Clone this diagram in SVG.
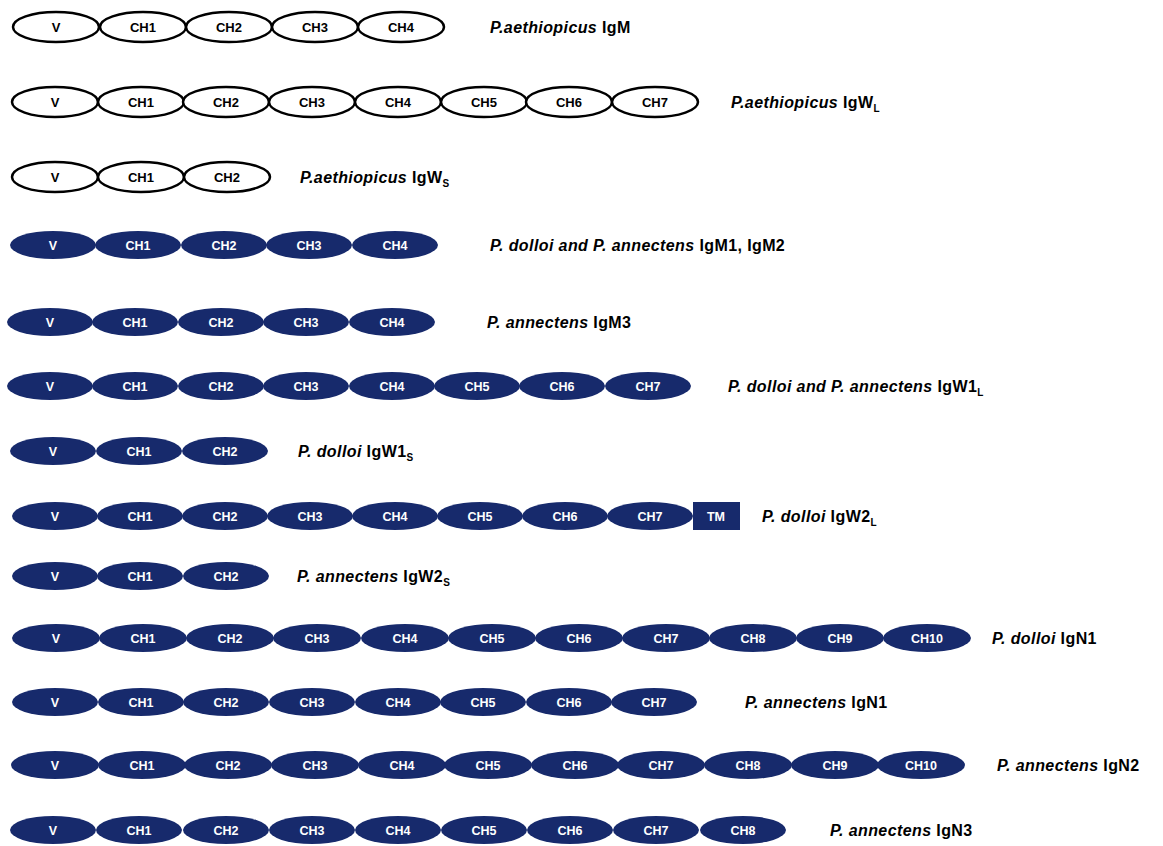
<svg xmlns="http://www.w3.org/2000/svg" width="1163" height="846" viewBox="0 0 1163 846">
<style>
.w{fill:#fff;stroke:#000;stroke-width:2.5}
.b{fill:#172a6c;stroke:none}
.tw{font-family:"Liberation Sans",Arial,sans-serif;font-weight:bold;font-size:13px;fill:#000;text-anchor:middle}
.tb{font-family:"Liberation Sans",Arial,sans-serif;font-weight:bold;font-size:12.5px;fill:#fff;text-anchor:middle}
.lab{font-family:"Liberation Sans",Arial,sans-serif;font-weight:bold;font-size:16px;fill:#000;letter-spacing:0.4px}
.it{font-style:italic}
.sub{font-size:10px}
</style>
<rect width="1163" height="846" fill="#fff"/>
<g id="row1">
<ellipse class="w" cx="56" cy="27" rx="43" ry="15"/><text class="tw" x="56" y="32">V</text>
<ellipse class="w" cx="143" cy="27" rx="43" ry="15"/><text class="tw" x="143" y="32">CH1</text>
<ellipse class="w" cx="229" cy="27" rx="43" ry="15"/><text class="tw" x="229" y="32">CH2</text>
<ellipse class="w" cx="315" cy="27" rx="43" ry="15"/><text class="tw" x="315" y="32">CH3</text>
<ellipse class="w" cx="401" cy="27" rx="43" ry="15"/><text class="tw" x="401" y="32">CH4</text>
<text class="lab" x="490" y="33"><tspan class="it">P.aethiopicus</tspan> IgM</text>
</g>
<g id="row2">
<ellipse class="w" cx="55" cy="102" rx="43" ry="15"/><text class="tw" x="55" y="107">V</text>
<ellipse class="w" cx="141" cy="102" rx="43" ry="15"/><text class="tw" x="141" y="107">CH1</text>
<ellipse class="w" cx="226" cy="102" rx="43" ry="15"/><text class="tw" x="226" y="107">CH2</text>
<ellipse class="w" cx="312" cy="102" rx="43" ry="15"/><text class="tw" x="312" y="107">CH3</text>
<ellipse class="w" cx="398" cy="102" rx="43" ry="15"/><text class="tw" x="398" y="107">CH4</text>
<ellipse class="w" cx="484" cy="102" rx="43" ry="15"/><text class="tw" x="484" y="107">CH5</text>
<ellipse class="w" cx="569" cy="102" rx="43" ry="15"/><text class="tw" x="569" y="107">CH6</text>
<ellipse class="w" cx="655" cy="102" rx="43" ry="15"/><text class="tw" x="655" y="107">CH7</text>
<text class="lab" x="731" y="108"><tspan class="it">P.aethiopicus</tspan> IgW<tspan class="sub" dy="4">L</tspan></text>
</g>
<g id="row3">
<ellipse class="w" cx="55" cy="177" rx="43" ry="15"/><text class="tw" x="55" y="182">V</text>
<ellipse class="w" cx="141" cy="177" rx="43" ry="15"/><text class="tw" x="141" y="182">CH1</text>
<ellipse class="w" cx="227" cy="177" rx="43" ry="15"/><text class="tw" x="227" y="182">CH2</text>
<text class="lab" x="300" y="183"><tspan class="it">P.aethiopicus</tspan> IgW<tspan class="sub" dy="4">S</tspan></text>
</g>
<g id="row4">
<ellipse class="b" cx="53" cy="245" rx="43" ry="14"/><text class="tb" x="53" y="250">V</text>
<ellipse class="b" cx="138" cy="245" rx="43" ry="14"/><text class="tb" x="138" y="250">CH1</text>
<ellipse class="b" cx="224" cy="245" rx="43" ry="14"/><text class="tb" x="224" y="250">CH2</text>
<ellipse class="b" cx="309" cy="245" rx="43" ry="14"/><text class="tb" x="309" y="250">CH3</text>
<ellipse class="b" cx="395" cy="245" rx="43" ry="14"/><text class="tb" x="395" y="250">CH4</text>
<text class="lab" x="490" y="251"><tspan class="it">P. dolloi and P. annectens</tspan> IgM1, IgM2</text>
</g>
<g id="row5">
<ellipse class="b" cx="50" cy="322" rx="43" ry="14"/><text class="tb" x="50" y="327">V</text>
<ellipse class="b" cx="135" cy="322" rx="43" ry="14"/><text class="tb" x="135" y="327">CH1</text>
<ellipse class="b" cx="221" cy="322" rx="43" ry="14"/><text class="tb" x="221" y="327">CH2</text>
<ellipse class="b" cx="306" cy="322" rx="43" ry="14"/><text class="tb" x="306" y="327">CH3</text>
<ellipse class="b" cx="392" cy="322" rx="43" ry="14"/><text class="tb" x="392" y="327">CH4</text>
<text class="lab" x="487" y="328"><tspan class="it">P. annectens</tspan> IgM3</text>
</g>
<g id="row6">
<ellipse class="b" cx="50" cy="386" rx="43" ry="14"/><text class="tb" x="50" y="391">V</text>
<ellipse class="b" cx="135" cy="386" rx="43" ry="14"/><text class="tb" x="135" y="391">CH1</text>
<ellipse class="b" cx="221" cy="386" rx="43" ry="14"/><text class="tb" x="221" y="391">CH2</text>
<ellipse class="b" cx="306" cy="386" rx="43" ry="14"/><text class="tb" x="306" y="391">CH3</text>
<ellipse class="b" cx="392" cy="386" rx="43" ry="14"/><text class="tb" x="392" y="391">CH4</text>
<ellipse class="b" cx="477" cy="386" rx="43" ry="14"/><text class="tb" x="477" y="391">CH5</text>
<ellipse class="b" cx="562" cy="386" rx="43" ry="14"/><text class="tb" x="562" y="391">CH6</text>
<ellipse class="b" cx="648" cy="386" rx="43" ry="14"/><text class="tb" x="648" y="391">CH7</text>
<text class="lab" x="728" y="392"><tspan class="it">P. dolloi and P. annectens</tspan> IgW1<tspan class="sub" dy="4">L</tspan></text>
</g>
<g id="row7">
<ellipse class="b" cx="53" cy="451" rx="43" ry="14"/><text class="tb" x="53" y="456">V</text>
<ellipse class="b" cx="139" cy="451" rx="43" ry="14"/><text class="tb" x="139" y="456">CH1</text>
<ellipse class="b" cx="225" cy="451" rx="43" ry="14"/><text class="tb" x="225" y="456">CH2</text>
<text class="lab" x="298" y="457"><tspan class="it">P. dolloi</tspan> IgW1<tspan class="sub" dy="4">S</tspan></text>
</g>
<g id="row8">
<ellipse class="b" cx="55" cy="516" rx="43" ry="14"/><text class="tb" x="55" y="521">V</text>
<ellipse class="b" cx="140" cy="516" rx="43" ry="14"/><text class="tb" x="140" y="521">CH1</text>
<ellipse class="b" cx="225" cy="516" rx="43" ry="14"/><text class="tb" x="225" y="521">CH2</text>
<ellipse class="b" cx="310" cy="516" rx="43" ry="14"/><text class="tb" x="310" y="521">CH3</text>
<ellipse class="b" cx="395" cy="516" rx="43" ry="14"/><text class="tb" x="395" y="521">CH4</text>
<ellipse class="b" cx="480" cy="516" rx="43" ry="14"/><text class="tb" x="480" y="521">CH5</text>
<ellipse class="b" cx="565" cy="516" rx="43" ry="14"/><text class="tb" x="565" y="521">CH6</text>
<ellipse class="b" cx="650" cy="516" rx="43" ry="14"/><text class="tb" x="650" y="521">CH7</text>
<rect class="b" x="693" y="502" width="47" height="28"/><text class="tb" x="716" y="521">TM</text>
<text class="lab" x="762" y="522"><tspan class="it">P. dolloi</tspan> IgW2<tspan class="sub" dy="4">L</tspan></text>
</g>
<g id="row9">
<ellipse class="b" cx="55" cy="576" rx="43" ry="14"/><text class="tb" x="55" y="581">V</text>
<ellipse class="b" cx="140" cy="576" rx="43" ry="14"/><text class="tb" x="140" y="581">CH1</text>
<ellipse class="b" cx="226" cy="576" rx="43" ry="14"/><text class="tb" x="226" y="581">CH2</text>
<text class="lab" x="297" y="582"><tspan class="it">P. annectens</tspan> IgW2<tspan class="sub" dy="4">S</tspan></text>
</g>
<g id="row10">
<ellipse class="b" cx="56" cy="638" rx="44" ry="14"/><text class="tb" x="56" y="643">V</text>
<ellipse class="b" cx="143" cy="638" rx="44" ry="14"/><text class="tb" x="143" y="643">CH1</text>
<ellipse class="b" cx="230" cy="638" rx="44" ry="14"/><text class="tb" x="230" y="643">CH2</text>
<ellipse class="b" cx="317" cy="638" rx="44" ry="14"/><text class="tb" x="317" y="643">CH3</text>
<ellipse class="b" cx="405" cy="638" rx="44" ry="14"/><text class="tb" x="405" y="643">CH4</text>
<ellipse class="b" cx="492" cy="638" rx="44" ry="14"/><text class="tb" x="492" y="643">CH5</text>
<ellipse class="b" cx="579" cy="638" rx="44" ry="14"/><text class="tb" x="579" y="643">CH6</text>
<ellipse class="b" cx="666" cy="638" rx="44" ry="14"/><text class="tb" x="666" y="643">CH7</text>
<ellipse class="b" cx="753" cy="638" rx="44" ry="14"/><text class="tb" x="753" y="643">CH8</text>
<ellipse class="b" cx="840" cy="638" rx="44" ry="14"/><text class="tb" x="840" y="643">CH9</text>
<ellipse class="b" cx="927" cy="638" rx="44" ry="14"/><text class="tb" x="927" y="643">CH10</text>
<text class="lab" x="992" y="644"><tspan class="it">P. dolloi</tspan> IgN1</text>
</g>
<g id="row11">
<ellipse class="b" cx="55" cy="702" rx="43" ry="14"/><text class="tb" x="55" y="707">V</text>
<ellipse class="b" cx="141" cy="702" rx="43" ry="14"/><text class="tb" x="141" y="707">CH1</text>
<ellipse class="b" cx="226" cy="702" rx="43" ry="14"/><text class="tb" x="226" y="707">CH2</text>
<ellipse class="b" cx="312" cy="702" rx="43" ry="14"/><text class="tb" x="312" y="707">CH3</text>
<ellipse class="b" cx="398" cy="702" rx="43" ry="14"/><text class="tb" x="398" y="707">CH4</text>
<ellipse class="b" cx="483" cy="702" rx="43" ry="14"/><text class="tb" x="483" y="707">CH5</text>
<ellipse class="b" cx="569" cy="702" rx="43" ry="14"/><text class="tb" x="569" y="707">CH6</text>
<ellipse class="b" cx="654" cy="702" rx="43" ry="14"/><text class="tb" x="654" y="707">CH7</text>
<text class="lab" x="745" y="708"><tspan class="it">P. annectens</tspan> IgN1</text>
</g>
<g id="row12">
<ellipse class="b" cx="55" cy="765" rx="44" ry="14"/><text class="tb" x="55" y="770">V</text>
<ellipse class="b" cx="142" cy="765" rx="44" ry="14"/><text class="tb" x="142" y="770">CH1</text>
<ellipse class="b" cx="228" cy="765" rx="44" ry="14"/><text class="tb" x="228" y="770">CH2</text>
<ellipse class="b" cx="315" cy="765" rx="44" ry="14"/><text class="tb" x="315" y="770">CH3</text>
<ellipse class="b" cx="402" cy="765" rx="44" ry="14"/><text class="tb" x="402" y="770">CH4</text>
<ellipse class="b" cx="488" cy="765" rx="44" ry="14"/><text class="tb" x="488" y="770">CH5</text>
<ellipse class="b" cx="575" cy="765" rx="44" ry="14"/><text class="tb" x="575" y="770">CH6</text>
<ellipse class="b" cx="661" cy="765" rx="44" ry="14"/><text class="tb" x="661" y="770">CH7</text>
<ellipse class="b" cx="748" cy="765" rx="44" ry="14"/><text class="tb" x="748" y="770">CH8</text>
<ellipse class="b" cx="835" cy="765" rx="44" ry="14"/><text class="tb" x="835" y="770">CH9</text>
<ellipse class="b" cx="921" cy="765" rx="44" ry="14"/><text class="tb" x="921" y="770">CH10</text>
<text class="lab" x="997" y="771"><tspan class="it">P. annectens</tspan> IgN2</text>
</g>
<g id="row13">
<ellipse class="b" cx="53" cy="830" rx="43" ry="14"/><text class="tb" x="53" y="835">V</text>
<ellipse class="b" cx="139" cy="830" rx="43" ry="14"/><text class="tb" x="139" y="835">CH1</text>
<ellipse class="b" cx="226" cy="830" rx="43" ry="14"/><text class="tb" x="226" y="835">CH2</text>
<ellipse class="b" cx="312" cy="830" rx="43" ry="14"/><text class="tb" x="312" y="835">CH3</text>
<ellipse class="b" cx="398" cy="830" rx="43" ry="14"/><text class="tb" x="398" y="835">CH4</text>
<ellipse class="b" cx="484" cy="830" rx="43" ry="14"/><text class="tb" x="484" y="835">CH5</text>
<ellipse class="b" cx="570" cy="830" rx="43" ry="14"/><text class="tb" x="570" y="835">CH6</text>
<ellipse class="b" cx="656" cy="830" rx="43" ry="14"/><text class="tb" x="656" y="835">CH7</text>
<ellipse class="b" cx="743" cy="830" rx="43" ry="14"/><text class="tb" x="743" y="835">CH8</text>
<text class="lab" x="830" y="836"><tspan class="it">P. annectens</tspan> IgN3</text>
</g>
<g id="connectors"/>
</svg>
